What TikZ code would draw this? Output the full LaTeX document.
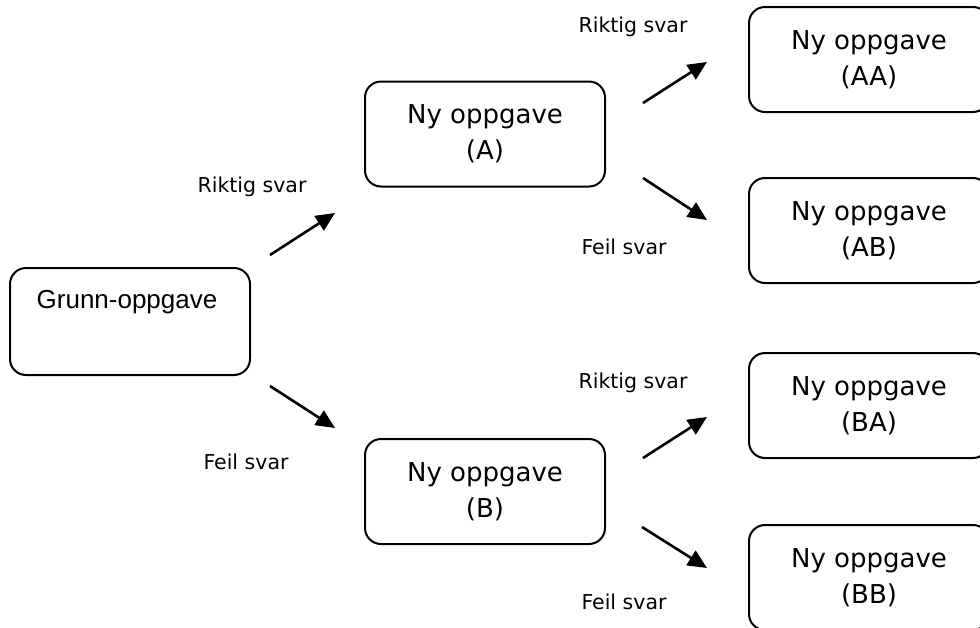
\documentclass[tikz,border=0pt]{standalone}
\usepackage{fontspec}
\setmainfont{DejaVu Sans}
\newfontfamily\arialfont{Liberation Sans}
\usetikzlibrary{arrows.meta}
\tikzset{
  taskbox/.style={draw, line width=2pt, rounded corners=16pt, minimum width=240pt, minimum height=105pt, align=center, font=\fontsize{26}{36}\selectfont, inner sep=0pt},
  arr/.style={line width=2.6pt, -{Triangle[length=19pt,width=17pt]}},
  lbl/.style={font=\fontsize{20.5}{24}\selectfont, inner sep=0pt}
}
\begin{document}
\begin{tikzpicture}[x=1pt,y=-1pt]
\useasboundingbox (0,0) rectangle (980,627);
\clip (0,0) rectangle (980,627);
% boxes
\node[taskbox, minimum height=107pt] (g) at (130,321.5) {};
\node[font=\arialfont\fontsize{26}{30}\selectfont, inner sep=0pt] (gt) at (127,302) {Grunn-oppgave};
\node[taskbox] (a) at (485,134) {Ny oppgave\\(A)};
\node[taskbox] (b) at (485,491.5) {Ny oppgave\\(B)};
\node[taskbox] (aa) at (869,59.5) {Ny oppgave\\(AA)};
\node[taskbox] (ab) at (869,230.5) {Ny oppgave\\(AB)};
\node[taskbox] (ba) at (869,405.5) {Ny oppgave\\(BA)};
\node[taskbox] (bb) at (869,577.5) {Ny oppgave\\(BB)};
% arrow ends
\coordinate (s1) at (270,255); \coordinate (e1) at (335,213);
\coordinate (s2) at (270,386); \coordinate (e2) at (335,428);
\coordinate (s3) at (643,103); \coordinate (e3) at (707,62);
\coordinate (s4) at (643,178); \coordinate (e4) at (707,220);
\coordinate (s5) at (643,458); \coordinate (e5) at (707,417);
\coordinate (s6) at (642,527); \coordinate (e6) at (707,568);
\draw[arr] (s1) -- (e1);
\draw[arr] (s2) -- (e2);
\draw[arr] (s3) -- (e3);
\draw[arr] (s4) -- (e4);
\draw[arr] (s5) -- (e5);
\draw[arr] (s6) -- (e6);
% labels
\node[lbl] (l1) at (252,187) {Riktig svar};
\node[lbl] (l2) at (246,462) {Feil svar};
\node[lbl] (l3) at (633,27) {Riktig svar};
\node[lbl] (l4) at (624,247) {Feil svar};
\node[lbl] (l5) at (633,383) {Riktig svar};
\node[lbl] (l6) at (624,602) {Feil svar};
\end{tikzpicture}
\end{document}
